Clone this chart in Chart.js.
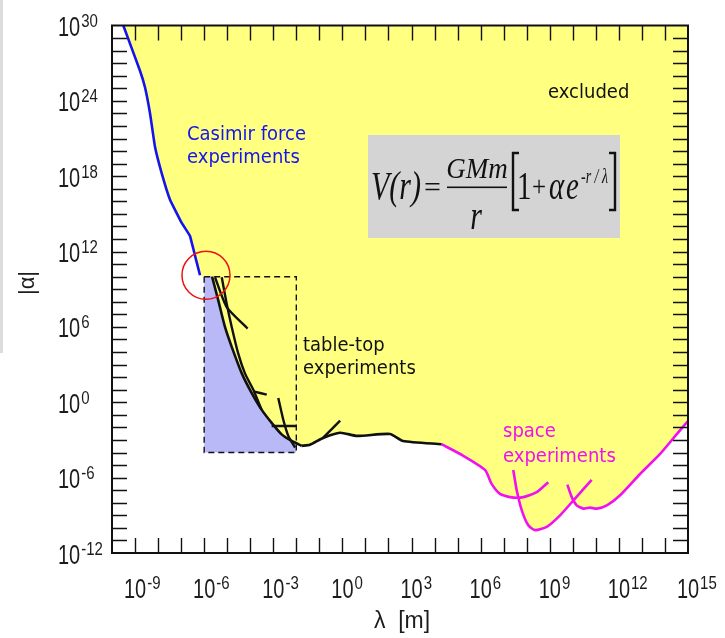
<!DOCTYPE html>
<html>
<head>
<meta charset="utf-8">
<title>Yukawa limits</title>
<script src="https://cdn.jsdelivr.net/npm/chart.js@4.4.1/dist/chart.umd.min.js"></script>
<style>
  html, body { margin: 0; padding: 0; background: #fff; }
  canvas { display: block; }
</style>
</head>
<body>
<canvas id="yukawaChart" width="725" height="638"></canvas>
<script>
// limits on a Yukawa term added to Newtonian gravity, pairs of [lambda (m), |alpha|]
const casimir = [
  [3.1e-10, 1e30], [1.64e-9, 2.5e26], [2.7e-9, 1.2e25], [4.5e-9, 9.4e22],
  [7.3e-9, 2.3e20], [1.44e-8, 1.7e18], [3.3e-8, 1.35e16], [1.06e-7, 1.9e14],
  [2.4e-7, 1.8e13], [4.0e-7, 4.8e11], [6.6e-7, 1.3e10]
];
const tableTopMain = [
  [2.2e-6, 1e10], [4.1e-6, 1.3e8], [8e-6, 1e6], [1.57e-5, 2.6e4], [4.3e-5, 200],
  [1.16e-4, 5.4], [3.1e-4, 0.26], [8.5e-4, 2.3e-2], [2.3e-3, 2.8e-3],
  [6.3e-3, 8.3e-4], [1.7e-2, 3.4e-4]
];
const tableTopSteep = [
  [5.8e-6, 8.9e9], [9.5e-6, 6.9e7], [1.57e-5, 1e6], [3e-5, 7.8e3],
  [5.9e-5, 200], [1.36e-4, 10], [3.1e-4, 0.26]
];
const tableTopSpur1 = [[2.95e-6, 9e9], [9.5e-6, 3.8e7], [7.7e-5, 7.4e5]];
const tableTopSpur2 = [[1.36e-4, 7.4], [5.2e-4, 4.1]];
const tableTopSpur3 = [[1.65e-3, 2.2], [2.7e-3, 4.3e-2], [4.5e-3, 2.1e-3], [8.8e-3, 2.5e-4]];
const tableTopSpur4 = [[8.5e-4, 1.3e-2], [1e-2, 1.3e-2]];
const midRange = [
  [1.7e-2, 3.4e-4], [3.9e-2, 4.1e-4], [0.144, 1.45e-3], [0.79, 3.8e-3],
  [4.3, 2.1e-3], [116, 3e-3], [427, 8.3e-4], [2e4, 4.6e-4]
];
const midSpur = [[0.144, 1.45e-3], [0.8, 3.5e-2]];
const spaceA = [
  [2e4, 4.6e-4], [1.77e5, 5.5e-5], [1.55e6, 4.1e-6], [3e6, 3.2e-7], [6.9e6, 5.1e-8],
  [1.88e7, 2.8e-8], [7.1e7, 2.8e-8], [2.7e8, 6.9e-8], [8.6e8, 4.3e-7]
];
const spaceB = [
  [2.6e7, 4.1e-6], [3.7e7, 9.3e-8], [6.1e7, 2.5e-9], [1.17e8, 1.6e-10], [2.3e8, 6.6e-11],
  [7.4e8, 1.2e-10], [2.8e9, 1e-9], [1.05e10, 1.5e-8], [6.6e10, 6.6e-7]
];
const spaceC = [
  [5.8e9, 2.8e-7], [9e9, 2.8e-8], [1.48e10, 6.2e-9], [2.9e10, 3.4e-9], [5.6e10, 4.1e-9],
  [1.1e11, 3.4e-9], [3e11, 6.2e-9], [1.1e12, 3.8e-8], [8.3e12, 1.95e-6],
  [6e13, 7.4e-5], [3.2e14, 2.8e-3], [1e15, 3.2e-2]
];
const spaceCrossing = [[4.4e7, 2.8e-8]];
const tableTopBox = [[1e-6, 1e10], [1e-2, 1e10], [1e-2, 1e-4], [1e-6, 1e-4], [1e-6, 1e10]];
const boxCorner = [[1e-6, 1e10], [1e-2, 5.8e-4]];
const circled = [[1.2e-6, 1.3e10]];
const xLabelPowers = [-9, -6, -3, 0, 3, 6, 9, 12, 15];
const yLabelPowers = [30, 24, 18, 12, 6, 0, -6, -12];

// lower edge of everything that is ruled out
const excludedEdge = [
  ...casimir,
  ...tableTopMain,
  ...midRange.slice(1),
  ...spaceA.slice(1, 6),
  ...spaceCrossing,
  ...spaceB.slice(2, 8),
  ...spaceC.slice(2)
];
// allowed corner inside the table-top window
const allowedCorner = [boxCorner[0], ...tableTopMain.slice(0, 10), boxCorner[1]];

const YELLOW = '#ffff80';
const LAVENDER = '#b9b9f7';
const BLUE = '#1414ee';
const MAGENTA = '#f010f0';
const INK = '#111';
const SANS = '"Liberation Sans", Arial, sans-serif';
const SERIF = '"Liberation Serif", "Times New Roman", serif';
const TICK = 15;

const toXY = pts => pts.map(([x, y]) => ({ x, y }));

function curve(points, color, width, extra) {
  return Object.assign({
    data: toXY(points),
    showLine: true,
    borderColor: color,
    borderWidth: width,
    pointRadius: 0,
    tension: 0.2,
    fill: false,
    order: 1
  }, extra || {});
}

// text drawn a little taller than wide, like the plotter lettering
function tall(ctx, str, x, y, font, sy, align) {
  ctx.save();
  ctx.font = font;
  ctx.textAlign = align || 'left';
  ctx.textBaseline = 'alphabetic';
  ctx.translate(x, y);
  ctx.scale(1, sy);
  ctx.fillText(str, 0, 0);
  ctx.restore();
}

function powerLabel(ctx, p, x, baseline, centred) {
  ctx.font = '20px ' + SANS;
  const w = ctx.measureText('10').width;
  const left = centred ? x - w / 2 : x;
  tall(ctx, '10', left, baseline, '20px ' + SANS, 1.4);
  tall(ctx, String(p), left + w + 1, baseline - 9, '15px ' + SANS, 1.25);
}

const plotterAxes = {
  id: 'plotterAxes',
  beforeDraw(chart) {
    const ctx = chart.ctx;
    ctx.save();
    ctx.fillStyle = '#dcdcdc';
    ctx.fillRect(0, 0, 3, 353);
    ctx.restore();
  },
  afterDatasetsDraw(chart) {
    const { ctx, chartArea: a } = chart;
    const sx = chart.scales.x, sy = chart.scales.y;
    ctx.save();
    ctx.strokeStyle = INK;
    ctx.lineWidth = 1.4;
    ctx.beginPath();
    const x0 = Math.round(Math.log10(sx.min)), x1 = Math.round(Math.log10(sx.max));
    for (let p = x0 + 1; p < x1; p++) {
      const px = Math.round(sx.getPixelForValue(Math.pow(10, p))) + 0.5;
      ctx.moveTo(px, a.bottom); ctx.lineTo(px, a.bottom - TICK);
      ctx.moveTo(px, a.top); ctx.lineTo(px, a.top + TICK);
    }
    const y0 = Math.round(Math.log10(sy.min)), y1 = Math.round(Math.log10(sy.max));
    for (let p = y0 + 1; p < y1; p++) {
      const py = Math.round(sy.getPixelForValue(Math.pow(10, p))) + 0.5;
      ctx.moveTo(a.left, py); ctx.lineTo(a.left + TICK, py);
      ctx.moveTo(a.right, py); ctx.lineTo(a.right - TICK, py);
    }
    ctx.stroke();
    ctx.lineWidth = 2;
    ctx.strokeRect(a.left, a.top, a.right - a.left, a.bottom - a.top);

    ctx.fillStyle = '#1c1c1c';
    xLabelPowers.forEach(p => powerLabel(ctx, p, sx.getPixelForValue(Math.pow(10, p)), a.bottom + 45, true));
    yLabelPowers.forEach(p => powerLabel(ctx, p, 58, sy.getPixelForValue(Math.pow(10, p)) + 10.5, false));

    // axis titles
    ctx.font = '23px ' + SANS;
    ctx.textAlign = 'center';
    ctx.fillText('\u03bb  [m]', 402, 628);
    ctx.save();
    ctx.translate(28, 283);
    ctx.rotate(-Math.PI / 2);
    ctx.font = '22px ' + SANS;
    ctx.textBaseline = 'middle';
    ctx.fillText('|\u03b1|', 0, 0);
    ctx.restore();

    // region notes
    const note = '18px "DejaVu Sans", sans-serif';
    ctx.fillStyle = BLUE;
    tall(ctx, 'Casimir force', 187, 140, note, 1.1);
    tall(ctx, 'experiments', 187, 163, note, 1.1);
    ctx.fillStyle = INK;
    tall(ctx, 'excluded', 548, 98, note, 1.1);
    tall(ctx, 'table-top', 303, 351, note, 1.1);
    tall(ctx, 'experiments', 303, 374, note, 1.1);
    ctx.fillStyle = MAGENTA;
    tall(ctx, 'space', 503, 437, note, 1.1);
    tall(ctx, 'experiments', 503, 462, note, 1.1);

    // Yukawa potential
    ctx.fillStyle = '#d4d4d4';
    ctx.fillRect(368, 135, 252, 103);
    ctx.fillStyle = INK;
    tall(ctx, 'V(r)', 371, 199, 'italic 30px ' + SERIF, 1.35);
    tall(ctx, '=', 424, 197, '30px ' + SERIF, 1);
    tall(ctx, 'GMm', 477, 178, 'italic 27px ' + SERIF, 1.1, 'center');
    ctx.fillRect(447, 186.5, 60, 1.6);
    tall(ctx, 'r', 476, 229, 'italic 30px ' + SERIF, 1.35, 'center');
    tall(ctx, '1', 517, 199, '29px ' + SERIF, 1.4);
    tall(ctx, '+', 532, 196, '25px ' + SERIF, 1.2);
    tall(ctx, '\u03b1', 549, 199, 'italic 29px ' + SERIF, 1.35);
    tall(ctx, 'e', 566, 199, 'italic 29px ' + SERIF, 1.35);
    tall(ctx, '-r / \u03bb', 581, 183, 'italic 14px ' + SERIF, 1.5);
    ctx.strokeStyle = INK;
    ctx.lineWidth = 2.4;
    ctx.beginPath();
    ctx.moveTo(519, 153); ctx.lineTo(513, 153); ctx.lineTo(513, 210); ctx.lineTo(519, 210);
    ctx.moveTo(609, 153); ctx.lineTo(615, 153); ctx.lineTo(615, 210); ctx.lineTo(609, 210);
    ctx.stroke();
    ctx.restore();
  }
};

new Chart(document.getElementById('yukawaChart'), {
  type: 'scatter',
  data: {
    datasets: [
      { data: toXY(circled), pointRadius: 24, pointBorderWidth: 1.5,
        pointBorderColor: '#ee1111', pointBackgroundColor: 'rgba(0,0,0,0)', showLine: false, order: 0 },
      curve(casimir, BLUE, 2.6, { tension: 0.08 }),
      curve(tableTopMain, INK, 2.6),
      curve(tableTopSteep, INK, 2.4),
      curve(tableTopSpur1, INK, 2.4),
      curve(tableTopSpur2, INK, 2.4),
      curve(tableTopSpur3, INK, 2.4),
      curve(tableTopSpur4, INK, 2.4),
      curve(midRange, INK, 2.6),
      curve(midSpur, INK, 2.4, { tension: 0 }),
      curve(spaceA, MAGENTA, 2.6),
      curve(spaceB, MAGENTA, 2.6),
      curve(spaceC, MAGENTA, 2.6),
      curve(tableTopBox, INK, 1.4, { tension: 0, borderDash: [6, 4], order: 2 }),
      curve(allowedCorner, 'rgba(0,0,0,0)', 0,
        { fill: { value: 1e-4 }, backgroundColor: LAVENDER, order: 3 }),
      curve(excludedEdge, 'rgba(0,0,0,0)', 0,
        { fill: 'end', backgroundColor: YELLOW, order: 4 })
    ]
  },
  options: {
    responsive: false,
    animation: false,
    devicePixelRatio: 1,
    layout: { padding: { left: 112, top: 21, right: 37, bottom: 85 } },
    scales: {
      x: { type: 'logarithmic', min: 1e-10, max: 1e15, display: false },
      y: { type: 'logarithmic', min: 1e-12, max: 1e30, display: false }
    },
    plugins: {
      legend: { display: false },
      tooltip: { enabled: false }
    }
  },
  plugins: [plotterAxes]
});
</script>
</body>
</html>
